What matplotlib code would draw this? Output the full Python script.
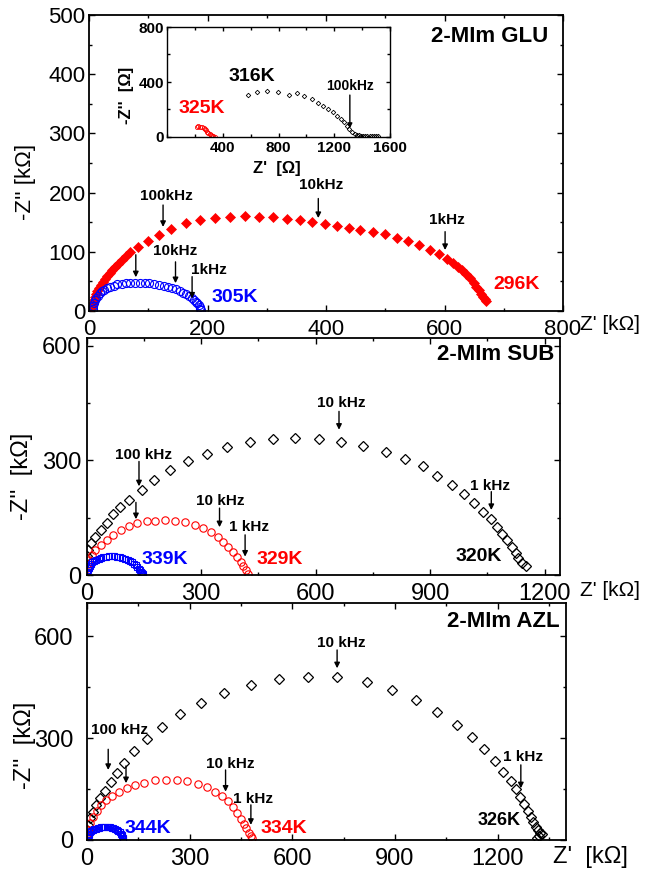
import matplotlib
matplotlib.use("Agg")
import matplotlib.pyplot as plt
from matplotlib.ticker import MultipleLocator
from matplotlib import font_manager

plt.rcParams['font.family'] = ['Liberation Sans', 'DejaVu Sans']
plt.rcParams['mathtext.default'] = 'regular'

_names = {f.name for f in font_manager.fontManager.ttflist}
NARROW = 'Liberation Sans Narrow' if 'Liberation Sans Narrow' in _names else 'Liberation Sans'

# ---------------- 2-MIm GLU : Z', -Z'' in kOhm ----------------
glu_296_re = [3, 5, 6, 8, 10, 12, 14, 17, 20, 23, 27, 31, 35, 39, 44, 49, 55, 62, 70, 82,
              99, 118, 139, 163, 188, 213, 238, 263, 287, 310, 334, 356, 377, 398, 418,
              439, 458, 480, 500, 520, 538, 557, 576, 590, 604, 614, 622, 630, 637, 643,
              649, 654, 658, 662, 665, 668, 670]
glu_296_im = [5, 10, 14, 19, 24, 29, 34, 39, 44, 49, 54, 59, 64, 69, 74, 80, 86, 93, 100, 108,
              118, 129, 139, 148, 154, 157, 159, 160, 159, 158, 156, 153, 150, 147, 144,
              141, 137, 134, 130, 124, 119, 111, 103, 96, 87, 81, 75, 69, 62, 55,
              48, 41, 35, 29, 24, 20, 17]
glu_305_re = [6, 7, 8, 10, 12, 15, 18, 22, 26, 31, 36, 42, 48, 55, 62, 70, 78, 86, 94, 102,
              110, 118, 126, 133, 140, 147, 153, 159, 164, 169, 173, 177, 180, 183, 185,
              187, 188, 189]
glu_305_im = [3, 8, 13, 18, 22, 26, 30, 33, 36, 39, 41, 43, 45, 46, 47, 47.5, 48, 48, 47.5, 47,
              46, 44.5, 43, 41, 39, 36.5, 34, 31, 28, 25, 22, 19, 16, 13, 10,
              7, 4, 2]

# inset, in Ohm
glu_316_re = [583, 643, 715, 798, 877, 930, 985, 1037, 1085, 1121, 1157, 1193, 1221, 1248,
              1269, 1288, 1307, 1326, 1348, 1363, 1378, 1393, 1408, 1423, 1438, 1453, 1468,
              1483, 1498, 1515]
glu_316_im = [305, 327, 334, 325, 305, 318, 300, 276, 249, 225, 204, 179, 155, 131,
              107, 82, 56, 34, 20, 14, 11, 9, 8, 7, 7, 7, 7,
              7, 7, 8]
glu_325_re = [213, 226, 240, 252, 263, 273, 282, 290, 297, 305, 313, 322, 332, 342]
glu_325_im = [75, 77, 75, 70, 64, 57, 48, 39, 30, 22, 14, 8, 4, 1]

# ---------------- 2-MIm SUB ----------------
sub_320_re = [1, 3.5, 12, 23, 37, 52, 70, 87, 110, 145, 177, 219, 265, 315, 367, 428, 487,
              547, 609, 667, 725, 783, 835, 882, 919, 958, 989, 1015, 1038, 1058, 1076,
              1089, 1102, 1113, 1124, 1131, 1141, 1151]
sub_320_im = [50, 65, 83, 100, 118, 137, 159, 179, 196, 223, 249, 275, 297, 317, 334, 347, 356,
              358, 356, 349, 338, 321, 304, 284, 260, 236, 211, 189, 166, 146, 125,
              107, 92, 74, 58, 45, 31, 24]
sub_329_re = [1, 3, 6, 15, 23, 37, 52, 70, 89, 110, 132, 157, 180, 206, 232, 258, 284, 306,
              325, 343, 357, 370, 383, 393, 404, 410, 417, 423]
sub_329_im = [18, 28, 39, 52, 65, 79, 92, 105, 118, 127, 135, 140, 142, 144, 142, 138, 131, 122,
              112, 100, 87, 74, 61, 48, 35, 24, 13, 3]
sub_339_re = [2, 3, 5, 8, 11, 15, 20, 25, 31, 37, 44, 51, 58, 65, 72, 79, 86, 93, 100, 107,
              113, 119, 124, 129, 133, 137, 140, 143, 145, 147]
sub_339_im = [5, 12, 18, 24, 29, 33, 37, 40, 43, 45, 47, 48, 49, 49, 49, 48, 47, 45, 43, 40,
              37, 33, 29, 25, 21, 17, 13, 9, 6, 3]

# ---------------- 2-MIm AZL ----------------
azl_326_re = [1, 3, 9, 17, 26, 38, 53, 70, 87, 109, 138, 174, 218, 272, 332, 401, 478, 561,
              645, 731, 817, 890, 963, 1024, 1080, 1125, 1161, 1192, 1216, 1238, 1253, 1267,
              1277, 1289, 1297, 1304, 1312, 1318, 1324, 1331, 1322, 1314]
azl_326_im = [29, 44, 63, 83, 103, 123, 145, 170, 196, 228, 262, 297, 334, 371, 403, 434, 457, 474,
              480, 479, 465, 442, 413, 378, 339, 303, 267, 231, 201, 174, 149, 125,
              106, 86, 68, 53, 39, 29, 20, 17, 10, 6]
azl_334_re = [1, 2, 4, 9, 18, 28, 40, 55, 74, 94, 116, 140, 167, 199, 231, 262, 293, 323, 350,
              374, 395, 413, 426, 437, 449, 459, 466, 474, 479, 483]
azl_334_im = [10, 19, 29, 49, 68, 86, 103, 118, 130, 142, 152, 162, 169, 175, 177, 177, 172, 165,
              155, 142, 129, 113, 96, 78, 61, 47, 34, 21, 11, 4]
azl_344_re = [2, 3, 5, 7, 10, 13, 17, 21, 26, 31, 36, 42, 48, 54, 60, 66, 72, 77, 82, 87, 91,
              95, 98, 101, 103, 105, 106]
azl_344_im = [4, 9, 14, 18, 22, 26, 29, 31, 33, 35, 36, 37, 37.5, 38, 37.5, 37, 36, 34, 32, 29,
              26, 22, 18, 14, 10, 6, 3]

RED = '#ff0000'
BLUE = '#0000ff'
W, H = 647, 872


def frac(x0, y0, x1, y1):
    """pixel box (left, top, right, bottom) -> figure rect"""
    return [x0 / W, 1 - y1 / H, (x1 - x0) / W, (y1 - y0) / H]


def style_axes(ax, size, family, xpad, ypad, spine_lw=1.3, bold=False):
    for s in ax.spines.values():
        s.set_linewidth(spine_lw)
    ax.tick_params(which='both', direction='in', top=True, right=True, width=1.0)
    ax.tick_params(which='major', length=4.5)
    ax.tick_params(which='minor', length=2.5)
    ax.tick_params(axis='x', pad=xpad)
    ax.tick_params(axis='y', pad=ypad)
    for lab in ax.get_xticklabels() + ax.get_yticklabels():
        lab.set_fontsize(size)
        lab.set_family(family)
        if bold:
            lab.set_fontweight('bold')


def arrow(ax, x, y0, y1, ms=8, lw=1.0):
    ax.annotate('', xy=(x, y1), xytext=(x, y0),
                arrowprops=dict(arrowstyle='-|>', color='k', lw=lw,
                                mutation_scale=ms, shrinkA=0, shrinkB=0))


def label(ax, x, y, s, size=11, color='k'):
    ax.text(x, y, s, ha='center', va='center', fontsize=size,
            fontweight='bold', color=color)


fig = plt.figure(figsize=(W / 100, H / 100), dpi=100)

# ================= top panel =================
ax1 = fig.add_axes(frac(89, 15, 563, 311))
ax1.plot(glu_296_re, glu_296_im, ls='none', marker='D', ms=4.8, mfc=RED, mec=RED, mew=0.5)
ax1.plot(glu_305_re, glu_305_im, ls='none', marker='o', ms=5.8, mfc='none', mec=BLUE, mew=0.8)
ax1.set_xlim(0, 800)
ax1.set_ylim(0, 500)
ax1.xaxis.set_major_locator(MultipleLocator(200))
ax1.xaxis.set_minor_locator(MultipleLocator(100))
ax1.yaxis.set_major_locator(MultipleLocator(100))
ax1.yaxis.set_minor_locator(MultipleLocator(50))
style_axes(ax1, 16, 'Liberation Sans', 5.5, 2.5)

label(ax1, 130, 194, '100kHz')
arrow(ax1, 125, 179, 142)
arrow(ax1, 79, 95, 57)
label(ax1, 146, 102, '10kHz')
arrow(ax1, 146, 83, 47)
label(ax1, 203, 69, '1kHz')
arrow(ax1, 174, 58, 21)
label(ax1, 392, 213, '10kHz')
arrow(ax1, 387, 190, 157)
label(ax1, 604, 154, '1kHz')
arrow(ax1, 601, 134, 103)
label(ax1, 722, 44, '296K', 14, RED)
label(ax1, 246, 22, '305K', 14, BLUE)
label(ax1, 677, 463, '2-MIm GLU', 16)

# inset
axi = fig.add_axes(frac(167, 27, 390, 137))
axi.plot(glu_316_re, glu_316_im, ls='none', marker='D', ms=2.3, mfc='none', mec='k', mew=0.6)
axi.plot(glu_325_re, glu_325_im, ls='none', marker='o', ms=3.0, mfc='none', mec=RED, mew=0.6)
axi.set_xlim(0, 1600)
axi.set_ylim(0, 800)
axi.set_xticks([400, 800, 1200, 1600])
axi.xaxis.set_minor_locator(MultipleLocator(200))
axi.set_yticks([0, 400, 800])
axi.yaxis.set_minor_locator(MultipleLocator(200))
style_axes(axi, 11, 'Liberation Sans', 3, 2, spine_lw=1.0, bold=True)
axi.tick_params(which='major', length=3)
axi.tick_params(which='minor', length=2)
label(axi, 607, 443, '316K', 14)
label(axi, 249, 208, '325K', 14, RED)
label(axi, 1312, 371, '100kHz', 10)
arrow(axi, 1312, 305, 63, ms=7)
fig.text(277 / W, 1 - 168 / H, "Z'  [Ω]", ha='center', va='center', fontsize=12, fontweight='bold')
fig.text(127 / W, 1 - 95 / H, "-Z''  [Ω]", ha='center', va='center', fontsize=12,
         fontweight='bold', rotation=90)

fig.text(25 / W, 1 - 182 / H, "-Z'' [kΩ]", ha='center', va='center', fontsize=16, rotation=90)
fig.text(580 / W, 1 - 324 / H, "Z' [kΩ]", ha='left', va='center', fontsize=15)

# ================= middle panel =================
ax2 = fig.add_axes(frac(86.7, 338, 560, 575))
ax2.plot(sub_320_re, sub_320_im, ls='none', marker='D', ms=5.1, mfc='none', mec='k', mew=0.9)
ax2.plot(sub_329_re, sub_329_im, ls='none', marker='o', ms=5.3, mfc='none', mec=RED, mew=0.8)
ax2.plot(sub_339_re, sub_339_im, ls='none', marker='s', ms=4.5, mfc='none', mec=BLUE, mew=0.8)
ax2.set_xlim(0, 1240)
ax2.set_ylim(0, 620)
for a in (ax2.xaxis, ax2.yaxis):
    a.set_major_locator(MultipleLocator(300))
    a.set_minor_locator(MultipleLocator(150))
style_axes(ax2, 17, NARROW, 6, 4)

label(ax2, 148, 314, '100 kHz')
arrow(ax2, 137, 297, 232)
arrow(ax2, 129, 190, 146)
label(ax2, 350, 194, '10 kHz')
arrow(ax2, 348, 175, 125)
label(ax2, 426, 125, '1 kHz')
arrow(ax2, 415, 105, 48)
label(ax2, 668, 451, '10 kHz')
arrow(ax2, 661, 428, 380)
label(ax2, 1056, 234, '1 kHz')
arrow(ax2, 1060, 218, 170)
label(ax2, 506, 41, '329K', 14, RED)
label(ax2, 204, 41, '339K', 14, BLUE)
label(ax2, 1028, 48, '320K', 14)
label(ax2, 1071, 576, '2-MIm SUB', 16)

fig.text(22 / W, 1 - 476 / H, "-Z''  [kΩ]", ha='center', va='center', fontsize=17,
         rotation=90, family=[NARROW, 'DejaVu Sans'])
fig.text(580 / W, 1 - 590 / H, "Z' [kΩ]", ha='left', va='center', fontsize=15,
         family=[NARROW, 'DejaVu Sans'])

# ================= bottom panel =================
ax3 = fig.add_axes(frac(87, 602.5, 566, 839.8))
ax3.plot(azl_326_re, azl_326_im, ls='none', marker='D', ms=5.1, mfc='none', mec='k', mew=0.9)
ax3.plot(azl_334_re, azl_334_im, ls='none', marker='o', ms=5.3, mfc='none', mec=RED, mew=0.8)
ax3.plot(azl_344_re, azl_344_im, ls='none', marker='s', ms=4.5, mfc='none', mec=BLUE, mew=0.8)
ax3.set_xlim(0, 1400)
ax3.set_ylim(0, 700)
for a in (ax3.xaxis, ax3.yaxis):
    a.set_major_locator(MultipleLocator(300))
    a.set_minor_locator(MultipleLocator(150))
style_axes(ax3, 17, NARROW, 6, 10)

label(ax3, 96, 324, '100 kHz')
arrow(ax3, 62, 267, 206)
arrow(ax3, 114, 218, 167)
label(ax3, 418, 224, '10 kHz')
arrow(ax3, 405, 206, 142)
label(ax3, 486, 120, '1 kHz')
arrow(ax3, 479, 103, 44)
label(ax3, 742, 582, '10 kHz')
arrow(ax3, 731, 560, 506)
label(ax3, 1275, 245, '1 kHz')
arrow(ax3, 1268, 221, 152)
label(ax3, 575, 34, '334K', 14, RED)
label(ax3, 179, 34, '344K', 14, BLUE)
label(ax3, 1206, 58, '326K', 13)
label(ax3, 1216, 644, '2-MIm AZL', 16)

fig.text(25 / W, 1 - 745 / H, "-Z''  [kΩ]", ha='center', va='center', fontsize=17,
         rotation=90, family=[NARROW, 'DejaVu Sans'])
fig.text(553 / W, 1 - 857 / H, "Z'  [kΩ]", ha='left', va='center', fontsize=17,
         family=[NARROW, 'DejaVu Sans'])

fig.savefig('out.png', dpi=100)
